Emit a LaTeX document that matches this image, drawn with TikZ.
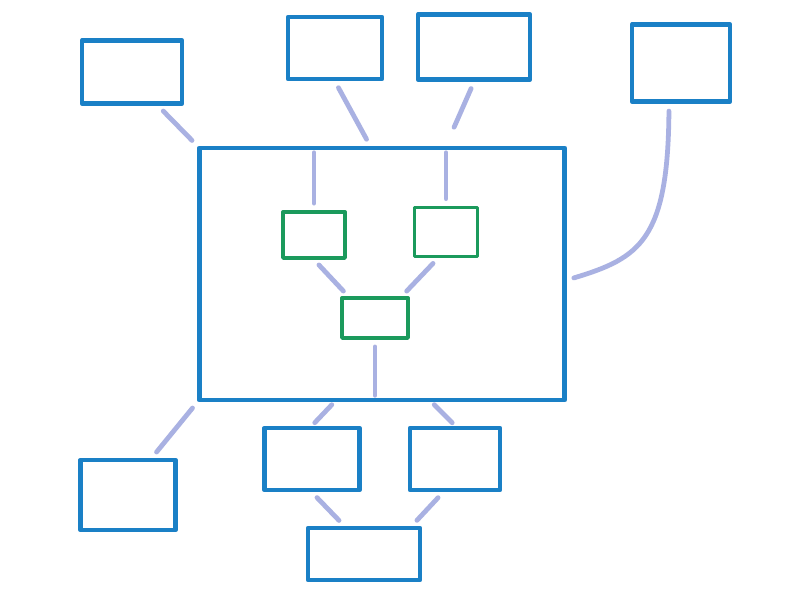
\documentclass[tikz,border=0pt]{standalone}
\usepackage{xcolor}
\usepackage{tikz}
\usetikzlibrary{calc}
\definecolor{penblue}{HTML}{1A80C6}
\definecolor{pengreen}{HTML}{1B9A5C}
\definecolor{penlilac}{HTML}{A9B1E2}

\begin{document}
\begin{tikzpicture}[
    x=0.025cm,y=-0.025cm,
    box/.style={rectangle,draw=penblue,line width=3.4pt,line join=round,inner sep=0pt},
    inbox/.style={rectangle,draw=pengreen,line width=2.4pt,line join=round,inner sep=0pt},
    link/.style={draw=penlilac,line width=3.4pt,line cap=round,shorten <=0.18cm,shorten >=0.18cm}
]
\useasboundingbox[fill=white] (0,0) rectangle (800,600);
% outer boxes
\node[box,minimum width=2.5cm,minimum height=1.575cm] (tl) at (132,72) {};
\node[box,minimum width=2.35cm,minimum height=1.55cm] (tmleft) at (335,48) {};
\node[box,minimum width=2.8cm,minimum height=1.625cm] (tmright) at (474,47) {};
\node[box,minimum width=2.45cm,minimum height=1.925cm] (tr) at (681,63) {};
\node[box,minimum width=9.125cm,minimum height=6.3cm] (big) at (382,274) {};
\node[box,minimum width=2.375cm,minimum height=1.75cm] (bl) at (128,495) {};
\node[box,minimum width=2.375cm,minimum height=1.55cm] (bmleft) at (312,459) {};
\node[box,minimum width=2.25cm,minimum height=1.55cm] (bmright) at (455,459) {};
\node[box,minimum width=2.8cm,minimum height=1.3cm] (bottom) at (364,554) {};
% inner boxes
\node[inbox,minimum width=1.55cm,minimum height=1.15cm] (gleft) at (314,235) {};
\node[inbox,minimum width=1.575cm,minimum height=1.225cm] (gright) at (446,232) {};
\node[inbox,minimum width=1.65cm,minimum height=1cm] (gmid) at (375,318) {};
% links
\draw[link] ($(tl.south)!0.5!(tl.south east)$) -- (big.north west);
\draw[link] (tmleft.south) -- ([xshift=-0.3cm]big.north);
\draw[link,shorten >=0.5cm] (tmright.south) -- ([xshift=1.6cm]big.north);
\draw[link] ([xshift=-0.3cm]tr.south) .. controls (668,240) and (640,258) .. ([yshift=-0.15cm]big.east);
\draw[link] (gleft.north) -- (gleft.north |- big.north);
\draw[link] (gright.north) -- (gright.north |- big.north);
\draw[link] (gleft.south) -- ([xshift=0.2cm]gmid.north west);
\draw[link] ([xshift=-0.2cm]gright.south) -- ([xshift=-0.2cm]gmid.north east);
\draw[link] (gmid.south) -- (gmid.south |- big.south);
\draw[link] (big.south west) -- ([xshift=0.6cm]bl.north);
\draw[link,shorten <=0.08cm,shorten >=0.1cm] ([xshift=-1.2cm]big.south) -- (bmleft.north);
\draw[link,shorten <=0.08cm,shorten >=0.1cm] ([xshift=1.25cm]big.south) -- (bmright.north);
\draw[link] (bmleft.south) -- ([xshift=-0.5cm]bottom.north);
\draw[link] ([xshift=-0.3cm]bmright.south) -- ([xshift=1.2cm]bottom.north);
\end{tikzpicture}
\end{document}
